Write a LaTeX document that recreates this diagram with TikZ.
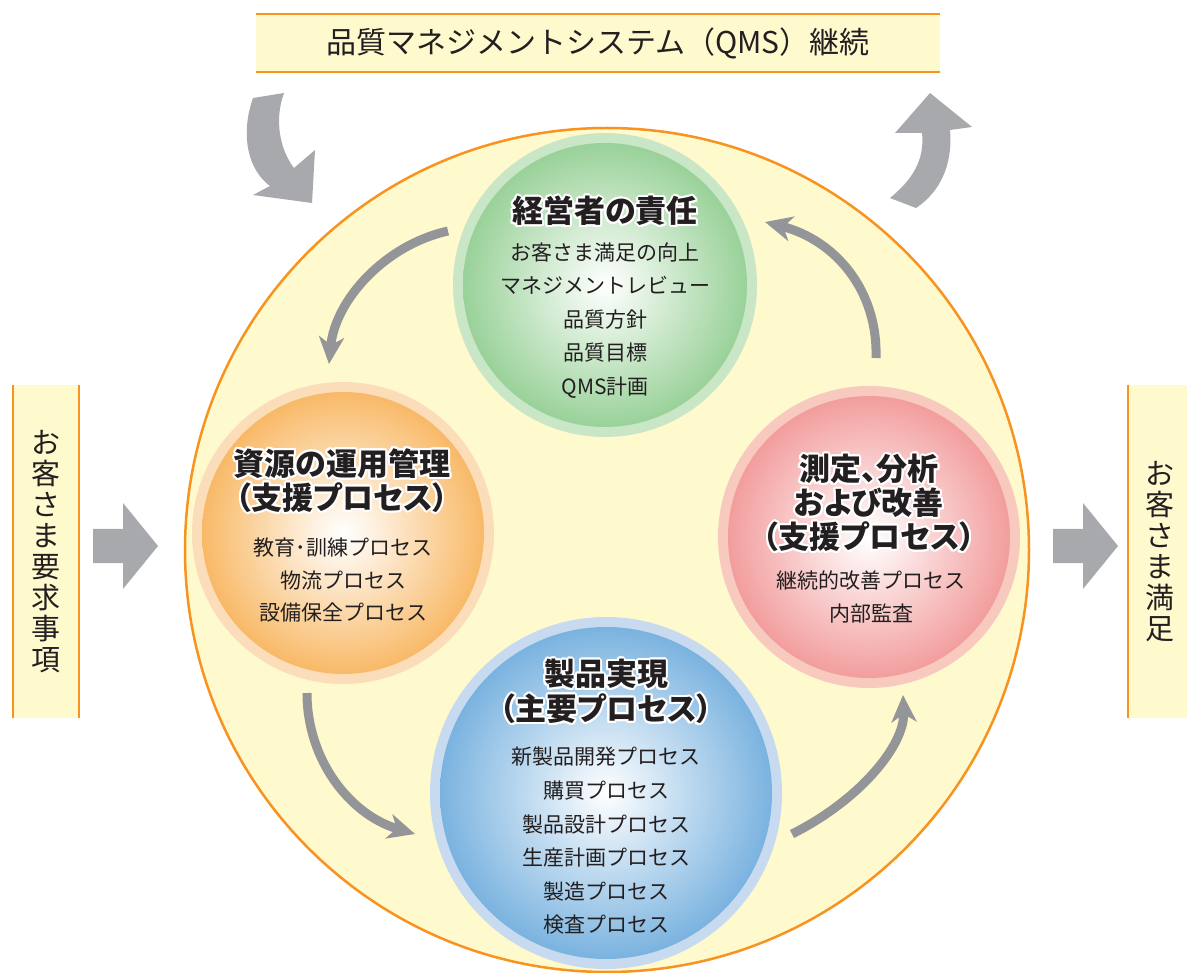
\documentclass[tikz,border=0pt]{standalone}
\usepackage{fontspec}
\usepackage{contour}
\contourlength{2pt}
\contournumber{16}
\usetikzlibrary{arrows.meta}
\newfontfamily\jp{Noto Sans CJK JP}
\newfontfamily\jpp[RawFeature=+palt]{Noto Sans CJK JP}
\definecolor{cyel}{HTML}{FFF9CE}
\definecolor{corg}{HTML}{F7931E}
\definecolor{cgray}{HTML}{A7A9AC}
\definecolor{cdgray}{HTML}{939598}
\definecolor{ctxt}{HTML}{231F20}
\definecolor{gG}{HTML}{6CBD6B}
\definecolor{gR}{HTML}{C9E6C7}
\definecolor{oG}{HTML}{F6A235}
\definecolor{oR}{HTML}{FCDDB9}
\definecolor{rG}{HTML}{EE7979}
\definecolor{rR}{HTML}{F8C9BF}
\definecolor{bG}{HTML}{3A8ED0}
\definecolor{bR}{HTML}{C8DAF0}
\pgfdeclareradialshading{shG}{\pgfpointorigin}{color(0bp)=(white); color(5bp)=(gG!14!white); color(26bp)=(gG!72!white); color(50bp)=(gG)}
\pgfdeclareradialshading{shO}{\pgfpointorigin}{color(0bp)=(white); color(5bp)=(oG!14!white); color(26bp)=(oG!78!white); color(50bp)=(oG)}
\pgfdeclareradialshading{shR}{\pgfpointorigin}{color(0bp)=(white); color(5bp)=(rG!14!white); color(26bp)=(rG!76!white); color(50bp)=(rG)}
\pgfdeclareradialshading{shB}{\pgfpointorigin}{color(0bp)=(white); color(5bp)=(bG!14!white); color(26bp)=(bG!70!white); color(50bp)=(bG)}
\newcommand{\hl}[1]{\contour{white}{#1}}
\begin{document}
\begin{tikzpicture}[x=1pt,y=-1pt,
  ringc/.style={circle, inner sep=0pt, outer sep=0pt, fill=#1},
  ballc/.style={circle, inner sep=0pt, outer sep=0pt, shading=#1},
  ttl/.style={font=\jpp\bfseries\fontsize{31}{34}\selectfont, text=ctxt, align=center, inner sep=0pt},
  itm/.style={font=\jp\fontsize{21}{33.5}\selectfont, text=ctxt, align=center, inner sep=0pt},
  sidebox/.style={fill=cyel, inner sep=0pt, minimum height=333, align=center, text=ctxt, font=\jp\fontsize{29}{31}\selectfont},
  carrow/.style={draw=cdgray, line width=9pt, -{Stealth[length=27pt,width=25pt,inset=8pt]}},
  bigarrow/.style={fill=cgray},
  oline/.style={draw=corg, line width=2.5pt}]
\useasboundingbox (0,0) rectangle (1187,973);
\fill[white] (0,0) rectangle (1187,973);

% big circle
\node[circle, draw=corg, line width=2.5pt, fill=cyel, minimum size=844, inner sep=0pt] (big) at (607,550) {};

% banner
\node[fill=cyel, minimum width=684, minimum height=58, inner sep=0pt, text=ctxt, font=\jp\fontsize{30}{34}\selectfont] (qms) at (598,43) {品質マネジメントシステム（QMS）継続};
\draw[oline] (qms.north west) -- (qms.north east);
\draw[oline] (qms.south west) -- (qms.south east);

% side boxes
\node[sidebox, minimum width=66] (req) at (46,551.5) {お\\客\\さ\\ま\\要\\求\\事\\項};
\draw[oline] (req.north west) -- (req.south west);
\draw[oline] (req.north east) -- (req.south east);
\node[sidebox, minimum width=64] (sat) at (1160,551.5) {お\\客\\さ\\ま\\満\\足};
\draw[oline] (sat.north west) -- (sat.south west);

% block arrows
\fill[bigarrow] (93,529) -- (123,529) -- (123,503) -- (158,546) -- (123,589) -- (123,563) -- (93,563) -- cycle;
\fill[bigarrow] (1053,529) -- (1083,529) -- (1083,503) -- (1118,546) -- (1083,589) -- (1083,563) -- (1053,563) -- cycle;

% big curved arrows
\fill[bigarrow] (253,98) .. controls (240,135) and (248,170) .. (270,186) -- (253,195) -- (312,203) -- (315,150) -- (294,168) .. controls (280,150) and (274,120) .. (284,93) -- cycle;
\fill[bigarrow] (890,198) .. controls (912,180) and (925,160) .. (922,133) -- (895,133) -- (930,93) -- (972,127) -- (950,130) .. controls (953,165) and (940,192) .. (916,208) -- cycle;

% green
\node[ringc=gR, minimum size=304] (mgmt) at (605,285) {};
\node[ballc=shG, minimum size=284] (mgmtin) at (mgmt) {};
\node[ttl] (mgmtT) at (605,212) {\hl{経営者の責任}};
\node[itm] (mgmtI) at (605,320.5) {お客さま満足の向上\\マネジメントレビュー\\品質方針\\品質目標\\QMS計画};

% orange
\node[ringc=oR, minimum size=302] (res) at (343,533) {};
\node[ballc=shO, minimum size=282] (resin) at (res) {};
\node[ttl] (resT) at (342,481.5) {\hl{資源の運用管理}\\\hl{（支援プロセス）}};
\node[itm, font=\jp\fontsize{21}{32.5}\selectfont] (resI) at (343,580.5) {教育･訓練プロセス\\物流プロセス\\設備保全プロセス};

% red
\node[ringc=rR, minimum size=302] (meas) at (869,537) {};
\node[ballc=shR, minimum size=282] (measin) at (meas) {};
\node[ttl] (measT) at (869,504) {\hl{測定、分析}\\\hl{および改善}\\\hl{（支援プロセス）}};
\node[itm, font=\jp\fontsize{21}{33}\selectfont] (measI) at (871,596.5) {継続的改善プロセス\\内部監査};

% blue
\node[ringc=bR, minimum size=352] (prod) at (606,793) {};
\node[ballc=shB, minimum size=332] (prodin) at (prod) {};
\node[ttl, font=\jpp\bfseries\fontsize{31}{35}\selectfont] (prodT) at (606,692.5) {\hl{製品実現}\\\hl{（主要プロセス）}};
\node[itm, font=\jp\fontsize{21}{33.6}\selectfont] (prodI) at (606,841) {新製品開発プロセス\\購買プロセス\\製品設計プロセス\\生産計画プロセス\\製造プロセス\\検査プロセス};

% cycle arrows
\coordinate (a1s) at (448,231); \coordinate (a1e) at (329,364);
\coordinate (a2s) at (307,693); \coordinate (a2e) at (415,834);
\coordinate (a3s) at (792,834); \coordinate (a3e) at (903,695);
\coordinate (a4s) at (876,358); \coordinate (a4e) at (765,222);
\draw[carrow] (a1s) .. controls (385,245) and (335,300) .. (a1e);
\draw[carrow] (a2s) .. controls (307,760) and (350,815) .. (a2e);
\draw[carrow] (a3s) .. controls (860,800) and (905,745) .. (a3e);
\draw[carrow] (a4s) .. controls (878,290) and (835,240) .. (a4e);
\end{tikzpicture}
\end{document}
